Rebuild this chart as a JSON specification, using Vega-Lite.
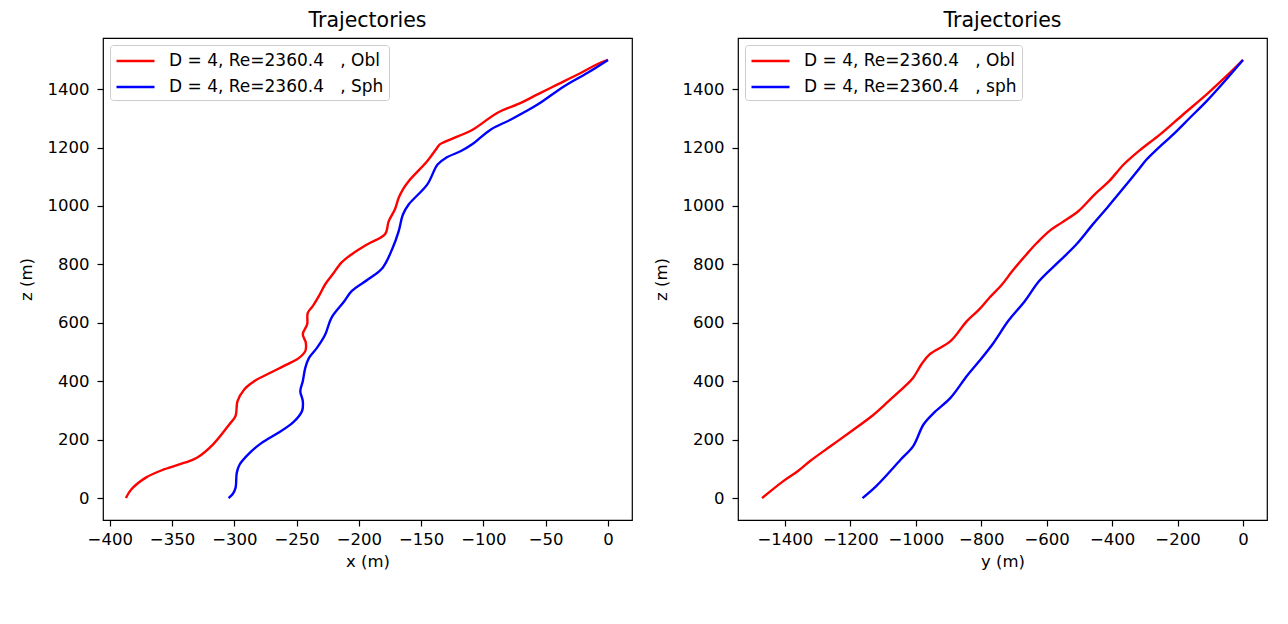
{
  "$schema": "https://vega.github.io/schema/vega-lite/v6.json",
  "padding": {"left": 17, "top": 9, "right": 5, "bottom": 5},
  "background": "white",
  "spacing": 19,
  "config": {
    "font": "DejaVu Sans",
    "view": {"stroke": "black", "strokeWidth": 1.2},
    "axis": {"domain": false, "grid": false, "tickColor": "black", "tickSize": 6, "tickWidth": 1.2, "labelFontSize": 16.5, "labelColor": "black", "labelFont": "DejaVu Sans", "titleFontSize": 16.5, "titleFont": "DejaVu Sans", "titleFontWeight": "normal", "titleColor": "black", "format": "d"},
    "axisY": {"minExtent": 56, "maxExtent": 56, "titlePadding": 13, "labelPadding": 8},
    "axisX": {"titlePadding": 6, "labelPadding": 5},
    "title": {"fontSize": 20.5, "fontWeight": "normal", "font": "DejaVu Sans", "color": "black", "offset": 7, "baseline": "alphabetic", "anchor": "middle"},
    "legend": {"orient": "top-left", "offset": 7, "title": null, "strokeColor": "#cccccc", "fillColor": "white", "padding": 5, "cornerRadius": 3, "labelFontSize": 17, "labelFont": "DejaVu Sans", "labelColor": "black", "symbolType": "M-1,0L3,0", "symbolSize": 361, "symbolStrokeWidth": 2.4, "labelOffset": 32, "rowPadding": 7, "labelLimit": 0}
  },
  "resolve": {"scale": {"color": "independent"}},
  "hconcat": [
    {
      "title": "Trajectories",
      "width": 529,
      "height": 482,
      "data": {"values": [
        {"s": "D = 4, Re=2360.4\u00a0\u00a0\u00a0, Obl", "x": 0, "z": 1500},
        {"s": "D = 4, Re=2360.4\u00a0\u00a0\u00a0, Obl", "x": -8.3, "z": 1486},
        {"s": "D = 4, Re=2360.4\u00a0\u00a0\u00a0, Obl", "x": -24.3, "z": 1450},
        {"s": "D = 4, Re=2360.4\u00a0\u00a0\u00a0, Obl", "x": -40.4, "z": 1416},
        {"s": "D = 4, Re=2360.4\u00a0\u00a0\u00a0, Obl", "x": -56.5, "z": 1382},
        {"s": "D = 4, Re=2360.4\u00a0\u00a0\u00a0, Obl", "x": -69.9, "z": 1353},
        {"s": "D = 4, Re=2360.4\u00a0\u00a0\u00a0, Obl", "x": -88.6, "z": 1319},
        {"s": "D = 4, Re=2360.4\u00a0\u00a0\u00a0, Obl", "x": -109, "z": 1260},
        {"s": "D = 4, Re=2360.4\u00a0\u00a0\u00a0, Obl", "x": -120, "z": 1239},
        {"s": "D = 4, Re=2360.4\u00a0\u00a0\u00a0, Obl", "x": -135, "z": 1211},
        {"s": "D = 4, Re=2360.4\u00a0\u00a0\u00a0, Obl", "x": -138, "z": 1194},
        {"s": "D = 4, Re=2360.4\u00a0\u00a0\u00a0, Obl", "x": -145, "z": 1154},
        {"s": "D = 4, Re=2360.4\u00a0\u00a0\u00a0, Obl", "x": -160, "z": 1085},
        {"s": "D = 4, Re=2360.4\u00a0\u00a0\u00a0, Obl", "x": -164.6, "z": 1057},
        {"s": "D = 4, Re=2360.4\u00a0\u00a0\u00a0, Obl", "x": -168, "z": 1028},
        {"s": "D = 4, Re=2360.4\u00a0\u00a0\u00a0, Obl", "x": -171, "z": 989},
        {"s": "D = 4, Re=2360.4\u00a0\u00a0\u00a0, Obl", "x": -176, "z": 948},
        {"s": "D = 4, Re=2360.4\u00a0\u00a0\u00a0, Obl", "x": -179, "z": 903},
        {"s": "D = 4, Re=2360.4\u00a0\u00a0\u00a0, Obl", "x": -193, "z": 869},
        {"s": "D = 4, Re=2360.4\u00a0\u00a0\u00a0, Obl", "x": -205.6, "z": 835},
        {"s": "D = 4, Re=2360.4\u00a0\u00a0\u00a0, Obl", "x": -214, "z": 806},
        {"s": "D = 4, Re=2360.4\u00a0\u00a0\u00a0, Obl", "x": -221, "z": 766},
        {"s": "D = 4, Re=2360.4\u00a0\u00a0\u00a0, Obl", "x": -227, "z": 732},
        {"s": "D = 4, Re=2360.4\u00a0\u00a0\u00a0, Obl", "x": -232, "z": 692},
        {"s": "D = 4, Re=2360.4\u00a0\u00a0\u00a0, Obl", "x": -237, "z": 657},
        {"s": "D = 4, Re=2360.4\u00a0\u00a0\u00a0, Obl", "x": -241, "z": 634},
        {"s": "D = 4, Re=2360.4\u00a0\u00a0\u00a0, Obl", "x": -241.5, "z": 595},
        {"s": "D = 4, Re=2360.4\u00a0\u00a0\u00a0, Obl", "x": -245, "z": 561},
        {"s": "D = 4, Re=2360.4\u00a0\u00a0\u00a0, Obl", "x": -242.6, "z": 532},
        {"s": "D = 4, Re=2360.4\u00a0\u00a0\u00a0, Obl", "x": -243, "z": 503},
        {"s": "D = 4, Re=2360.4\u00a0\u00a0\u00a0, Obl", "x": -248, "z": 480},
        {"s": "D = 4, Re=2360.4\u00a0\u00a0\u00a0, Obl", "x": -258, "z": 457},
        {"s": "D = 4, Re=2360.4\u00a0\u00a0\u00a0, Obl", "x": -271, "z": 429},
        {"s": "D = 4, Re=2360.4\u00a0\u00a0\u00a0, Obl", "x": -284, "z": 400},
        {"s": "D = 4, Re=2360.4\u00a0\u00a0\u00a0, Obl", "x": -292, "z": 372},
        {"s": "D = 4, Re=2360.4\u00a0\u00a0\u00a0, Obl", "x": -297.4, "z": 332},
        {"s": "D = 4, Re=2360.4\u00a0\u00a0\u00a0, Obl", "x": -299, "z": 281},
        {"s": "D = 4, Re=2360.4\u00a0\u00a0\u00a0, Obl", "x": -304, "z": 252},
        {"s": "D = 4, Re=2360.4\u00a0\u00a0\u00a0, Obl", "x": -317, "z": 184},
        {"s": "D = 4, Re=2360.4\u00a0\u00a0\u00a0, Obl", "x": -330, "z": 138},
        {"s": "D = 4, Re=2360.4\u00a0\u00a0\u00a0, Obl", "x": -340, "z": 121},
        {"s": "D = 4, Re=2360.4\u00a0\u00a0\u00a0, Obl", "x": -356.6, "z": 98},
        {"s": "D = 4, Re=2360.4\u00a0\u00a0\u00a0, Obl", "x": -371, "z": 70},
        {"s": "D = 4, Re=2360.4\u00a0\u00a0\u00a0, Obl", "x": -382.6, "z": 30},
        {"s": "D = 4, Re=2360.4\u00a0\u00a0\u00a0, Obl", "x": -387, "z": 0},
        {"s": "D = 4, Re=2360.4\u00a0\u00a0\u00a0, Sph", "x": 0, "z": 1500},
        {"s": "D = 4, Re=2360.4\u00a0\u00a0\u00a0, Sph", "x": -16.3, "z": 1456},
        {"s": "D = 4, Re=2360.4\u00a0\u00a0\u00a0, Sph", "x": -35.1, "z": 1410},
        {"s": "D = 4, Re=2360.4\u00a0\u00a0\u00a0, Sph", "x": -56.5, "z": 1347},
        {"s": "D = 4, Re=2360.4\u00a0\u00a0\u00a0, Sph", "x": -77.9, "z": 1296},
        {"s": "D = 4, Re=2360.4\u00a0\u00a0\u00a0, Sph", "x": -94, "z": 1262},
        {"s": "D = 4, Re=2360.4\u00a0\u00a0\u00a0, Sph", "x": -109, "z": 1211},
        {"s": "D = 4, Re=2360.4\u00a0\u00a0\u00a0, Sph", "x": -118, "z": 1188},
        {"s": "D = 4, Re=2360.4\u00a0\u00a0\u00a0, Sph", "x": -130, "z": 1165},
        {"s": "D = 4, Re=2360.4\u00a0\u00a0\u00a0, Sph", "x": -136.8, "z": 1142},
        {"s": "D = 4, Re=2360.4\u00a0\u00a0\u00a0, Sph", "x": -145, "z": 1074},
        {"s": "D = 4, Re=2360.4\u00a0\u00a0\u00a0, Sph", "x": -160, "z": 1005},
        {"s": "D = 4, Re=2360.4\u00a0\u00a0\u00a0, Sph", "x": -164.6, "z": 971},
        {"s": "D = 4, Re=2360.4\u00a0\u00a0\u00a0, Sph", "x": -168, "z": 914},
        {"s": "D = 4, Re=2360.4\u00a0\u00a0\u00a0, Sph", "x": -172.8, "z": 857},
        {"s": "D = 4, Re=2360.4\u00a0\u00a0\u00a0, Sph", "x": -181, "z": 788},
        {"s": "D = 4, Re=2360.4\u00a0\u00a0\u00a0, Sph", "x": -192.5, "z": 749},
        {"s": "D = 4, Re=2360.4\u00a0\u00a0\u00a0, Sph", "x": -205.6, "z": 709},
        {"s": "D = 4, Re=2360.4\u00a0\u00a0\u00a0, Sph", "x": -212, "z": 672},
        {"s": "D = 4, Re=2360.4\u00a0\u00a0\u00a0, Sph", "x": -222, "z": 617},
        {"s": "D = 4, Re=2360.4\u00a0\u00a0\u00a0, Sph", "x": -227, "z": 560},
        {"s": "D = 4, Re=2360.4\u00a0\u00a0\u00a0, Sph", "x": -233.5, "z": 515},
        {"s": "D = 4, Re=2360.4\u00a0\u00a0\u00a0, Sph", "x": -240, "z": 480},
        {"s": "D = 4, Re=2360.4\u00a0\u00a0\u00a0, Sph", "x": -243, "z": 446},
        {"s": "D = 4, Re=2360.4\u00a0\u00a0\u00a0, Sph", "x": -245, "z": 400},
        {"s": "D = 4, Re=2360.4\u00a0\u00a0\u00a0, Sph", "x": -247, "z": 366},
        {"s": "D = 4, Re=2360.4\u00a0\u00a0\u00a0, Sph", "x": -245, "z": 332},
        {"s": "D = 4, Re=2360.4\u00a0\u00a0\u00a0, Sph", "x": -245.6, "z": 298},
        {"s": "D = 4, Re=2360.4\u00a0\u00a0\u00a0, Sph", "x": -253, "z": 258},
        {"s": "D = 4, Re=2360.4\u00a0\u00a0\u00a0, Sph", "x": -264.6, "z": 224},
        {"s": "D = 4, Re=2360.4\u00a0\u00a0\u00a0, Sph", "x": -278, "z": 189},
        {"s": "D = 4, Re=2360.4\u00a0\u00a0\u00a0, Sph", "x": -287.6, "z": 155},
        {"s": "D = 4, Re=2360.4\u00a0\u00a0\u00a0, Sph", "x": -295.7, "z": 115},
        {"s": "D = 4, Re=2360.4\u00a0\u00a0\u00a0, Sph", "x": -298, "z": 87},
        {"s": "D = 4, Re=2360.4\u00a0\u00a0\u00a0, Sph", "x": -299, "z": 35},
        {"s": "D = 4, Re=2360.4\u00a0\u00a0\u00a0, Sph", "x": -301.4, "z": 13},
        {"s": "D = 4, Re=2360.4\u00a0\u00a0\u00a0, Sph", "x": -304.6, "z": 0}
      ]},
      "mark": {"type": "line", "strokeWidth": 2.4, "clip": true, "interpolate": "catmull-rom"},
      "encoding": {
        "x": {"field": "x", "type": "quantitative", "scale": {"domain": [-405.4, 19.3], "nice": false, "zero": false}, "axis": {"values": [-400, -350, -300, -250, -200, -150, -100, -50, 0], "title": "x (m)"}},
        "y": {"field": "z", "type": "quantitative", "scale": {"domain": [-75, 1575], "nice": false, "zero": false}, "axis": {"values": [0, 200, 400, 600, 800, 1000, 1200, 1400], "title": "z (m)"}},
        "color": {"field": "s", "type": "nominal", "scale": {"domain": ["D = 4, Re=2360.4\u00a0\u00a0\u00a0, Obl", "D = 4, Re=2360.4\u00a0\u00a0\u00a0, Sph"], "range": ["#ff0000", "#0000ff"]}},
        "order": {"field": "z", "sort": "descending"}
      }
    },
    {
      "title": "Trajectories",
      "width": 529,
      "height": 482,
      "data": {"values": [
        {"s": "D = 4, Re=2360.4\u00a0\u00a0\u00a0, Obl", "y": 0, "z": 1500},
        {"s": "D = 4, Re=2360.4\u00a0\u00a0\u00a0, Obl", "y": -9, "z": 1490},
        {"s": "D = 4, Re=2360.4\u00a0\u00a0\u00a0, Obl", "y": -50, "z": 1445},
        {"s": "D = 4, Re=2360.4\u00a0\u00a0\u00a0, Obl", "y": -111, "z": 1382},
        {"s": "D = 4, Re=2360.4\u00a0\u00a0\u00a0, Obl", "y": -182, "z": 1314},
        {"s": "D = 4, Re=2360.4\u00a0\u00a0\u00a0, Obl", "y": -253, "z": 1245},
        {"s": "D = 4, Re=2360.4\u00a0\u00a0\u00a0, Obl", "y": -314, "z": 1192},
        {"s": "D = 4, Re=2360.4\u00a0\u00a0\u00a0, Obl", "y": -364.6, "z": 1142},
        {"s": "D = 4, Re=2360.4\u00a0\u00a0\u00a0, Obl", "y": -409, "z": 1085},
        {"s": "D = 4, Re=2360.4\u00a0\u00a0\u00a0, Obl", "y": -453, "z": 1040},
        {"s": "D = 4, Re=2360.4\u00a0\u00a0\u00a0, Obl", "y": -503.5, "z": 982},
        {"s": "D = 4, Re=2360.4\u00a0\u00a0\u00a0, Obl", "y": -554, "z": 943},
        {"s": "D = 4, Re=2360.4\u00a0\u00a0\u00a0, Obl", "y": -592, "z": 914},
        {"s": "D = 4, Re=2360.4\u00a0\u00a0\u00a0, Obl", "y": -629.6, "z": 874},
        {"s": "D = 4, Re=2360.4\u00a0\u00a0\u00a0, Obl", "y": -662, "z": 834},
        {"s": "D = 4, Re=2360.4\u00a0\u00a0\u00a0, Obl", "y": -705, "z": 777},
        {"s": "D = 4, Re=2360.4\u00a0\u00a0\u00a0, Obl", "y": -736.6, "z": 731},
        {"s": "D = 4, Re=2360.4\u00a0\u00a0\u00a0, Obl", "y": -775, "z": 686},
        {"s": "D = 4, Re=2360.4\u00a0\u00a0\u00a0, Obl", "y": -806, "z": 646},
        {"s": "D = 4, Re=2360.4\u00a0\u00a0\u00a0, Obl", "y": -844, "z": 606},
        {"s": "D = 4, Re=2360.4\u00a0\u00a0\u00a0, Obl", "y": -894, "z": 537},
        {"s": "D = 4, Re=2360.4\u00a0\u00a0\u00a0, Obl", "y": -958, "z": 492},
        {"s": "D = 4, Re=2360.4\u00a0\u00a0\u00a0, Obl", "y": -982.6, "z": 458},
        {"s": "D = 4, Re=2360.4\u00a0\u00a0\u00a0, Obl", "y": -1008, "z": 412},
        {"s": "D = 4, Re=2360.4\u00a0\u00a0\u00a0, Obl", "y": -1033, "z": 383},
        {"s": "D = 4, Re=2360.4\u00a0\u00a0\u00a0, Obl", "y": -1083, "z": 332},
        {"s": "D = 4, Re=2360.4\u00a0\u00a0\u00a0, Obl", "y": -1134, "z": 281},
        {"s": "D = 4, Re=2360.4\u00a0\u00a0\u00a0, Obl", "y": -1197, "z": 229},
        {"s": "D = 4, Re=2360.4\u00a0\u00a0\u00a0, Obl", "y": -1260, "z": 178},
        {"s": "D = 4, Re=2360.4\u00a0\u00a0\u00a0, Obl", "y": -1323, "z": 127},
        {"s": "D = 4, Re=2360.4\u00a0\u00a0\u00a0, Obl", "y": -1361, "z": 92},
        {"s": "D = 4, Re=2360.4\u00a0\u00a0\u00a0, Obl", "y": -1405, "z": 58},
        {"s": "D = 4, Re=2360.4\u00a0\u00a0\u00a0, Obl", "y": -1470, "z": 0},
        {"s": "D = 4, Re=2360.4\u00a0\u00a0\u00a0, sph", "y": 0, "z": 1500},
        {"s": "D = 4, Re=2360.4\u00a0\u00a0\u00a0, sph", "y": -60, "z": 1422},
        {"s": "D = 4, Re=2360.4\u00a0\u00a0\u00a0, sph", "y": -111, "z": 1359},
        {"s": "D = 4, Re=2360.4\u00a0\u00a0\u00a0, sph", "y": -162, "z": 1302},
        {"s": "D = 4, Re=2360.4\u00a0\u00a0\u00a0, sph", "y": -213, "z": 1245},
        {"s": "D = 4, Re=2360.4\u00a0\u00a0\u00a0, sph", "y": -263, "z": 1194},
        {"s": "D = 4, Re=2360.4\u00a0\u00a0\u00a0, sph", "y": -294, "z": 1160},
        {"s": "D = 4, Re=2360.4\u00a0\u00a0\u00a0, sph", "y": -316, "z": 1129},
        {"s": "D = 4, Re=2360.4\u00a0\u00a0\u00a0, sph", "y": -364.6, "z": 1062},
        {"s": "D = 4, Re=2360.4\u00a0\u00a0\u00a0, sph", "y": -415, "z": 994},
        {"s": "D = 4, Re=2360.4\u00a0\u00a0\u00a0, sph", "y": -459, "z": 937},
        {"s": "D = 4, Re=2360.4\u00a0\u00a0\u00a0, sph", "y": -509.6, "z": 868},
        {"s": "D = 4, Re=2360.4\u00a0\u00a0\u00a0, sph", "y": -566, "z": 806},
        {"s": "D = 4, Re=2360.4\u00a0\u00a0\u00a0, sph", "y": -623, "z": 743},
        {"s": "D = 4, Re=2360.4\u00a0\u00a0\u00a0, sph", "y": -667, "z": 674},
        {"s": "D = 4, Re=2360.4\u00a0\u00a0\u00a0, sph", "y": -717.7, "z": 606},
        {"s": "D = 4, Re=2360.4\u00a0\u00a0\u00a0, sph", "y": -762, "z": 532},
        {"s": "D = 4, Re=2360.4\u00a0\u00a0\u00a0, sph", "y": -806, "z": 469},
        {"s": "D = 4, Re=2360.4\u00a0\u00a0\u00a0, sph", "y": -844, "z": 418},
        {"s": "D = 4, Re=2360.4\u00a0\u00a0\u00a0, sph", "y": -894, "z": 343},
        {"s": "D = 4, Re=2360.4\u00a0\u00a0\u00a0, sph", "y": -944.8, "z": 292},
        {"s": "D = 4, Re=2360.4\u00a0\u00a0\u00a0, sph", "y": -976.5, "z": 252},
        {"s": "D = 4, Re=2360.4\u00a0\u00a0\u00a0, sph", "y": -1008, "z": 178},
        {"s": "D = 4, Re=2360.4\u00a0\u00a0\u00a0, sph", "y": -1046, "z": 132},
        {"s": "D = 4, Re=2360.4\u00a0\u00a0\u00a0, sph", "y": -1121, "z": 41},
        {"s": "D = 4, Re=2360.4\u00a0\u00a0\u00a0, sph", "y": -1163, "z": 0}
      ]},
      "mark": {"type": "line", "strokeWidth": 2.4, "clip": true, "interpolate": "catmull-rom"},
      "encoding": {
        "x": {"field": "y", "type": "quantitative", "scale": {"domain": [-1543.5, 73.5], "nice": false, "zero": false}, "axis": {"values": [-1400, -1200, -1000, -800, -600, -400, -200, 0], "title": "y (m)"}},
        "y": {"field": "z", "type": "quantitative", "scale": {"domain": [-75, 1575], "nice": false, "zero": false}, "axis": {"values": [0, 200, 400, 600, 800, 1000, 1200, 1400], "title": "z (m)"}},
        "color": {"field": "s", "type": "nominal", "scale": {"domain": ["D = 4, Re=2360.4\u00a0\u00a0\u00a0, Obl", "D = 4, Re=2360.4\u00a0\u00a0\u00a0, sph"], "range": ["#ff0000", "#0000ff"]}},
        "order": {"field": "z", "sort": "descending"}
      }
    }
  ]
}
